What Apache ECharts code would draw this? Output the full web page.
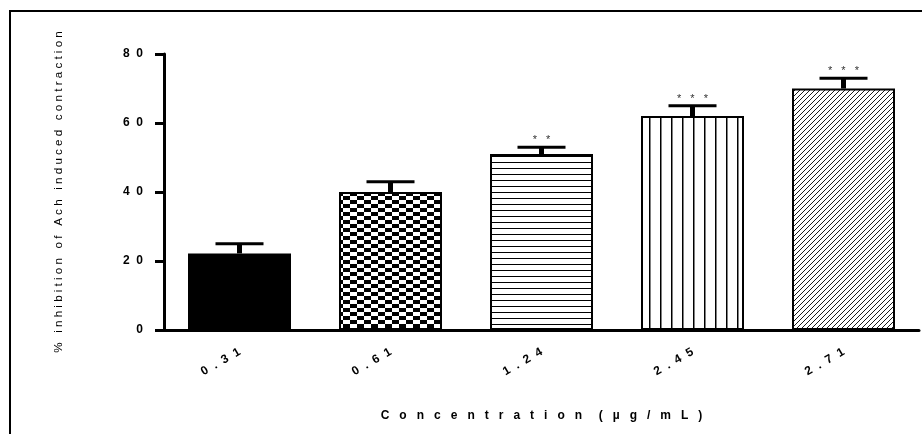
<!DOCTYPE html>
<html>
<head>
<meta charset="utf-8">
<script src="https://cdn.jsdelivr.net/npm/echarts@6/dist/echarts.min.js"></script>
<style>
  html, body { margin: 0; padding: 0; background: #fff; }
  #chart { width: 922px; height: 434px; }
</style>
</head>
<body>
<div id="chart"></div>
<script>
// data
const categories = ['0.31', '0.61', '1.24', '2.45', '2.71'];
const means = [22.2, 40, 51, 62, 70];
const errors = [2.8, 3, 2, 3, 3];
const sigs = ['', '', '**', '***', '***'];
const yTicks = { min: 0, max: 80, interval: 20 };

const FONT = '"Liberation Sans", Arial, sans-serif';

// spread characters like the original figure
const spaced = (s, gap) => String(s).split('').join(gap);
const spacedWords = (s, gap, wordGap) => s.split(' ').map(w => spaced(w, gap)).join(wordGap);

// fill patterns for each bar
const makePattern = (kind) => {
  const c = document.createElement('canvas');
  const ctx = c.getContext('2d');
  if (kind === 'checker') {
    c.width = 14; c.height = 8;
    ctx.fillStyle = '#fff'; ctx.fillRect(0, 0, 14, 8);
    ctx.fillStyle = '#000';
    ctx.fillRect(0, 0, 7, 4);
    ctx.fillRect(7, 4, 7, 4);
  } else if (kind === 'hlines') {
    c.width = 8; c.height = 6;
    ctx.fillStyle = '#fff'; ctx.fillRect(0, 0, 8, 6);
    ctx.fillStyle = '#000'; ctx.fillRect(0, 0, 8, 1);
  } else if (kind === 'vlines') {
    c.width = 11; c.height = 8;
    ctx.fillStyle = '#fff'; ctx.fillRect(0, 0, 11, 8);
    ctx.fillStyle = '#000'; ctx.fillRect(0, 0, 1.5, 8);
  } else if (kind === 'diag') {
    c.width = 5; c.height = 5;
    ctx.fillStyle = '#fff'; ctx.fillRect(0, 0, 5, 5);
    ctx.strokeStyle = '#000'; ctx.lineWidth = 0.9;
    ctx.beginPath();
    ctx.moveTo(0, 5); ctx.lineTo(5, 0);
    ctx.moveTo(-1, 1); ctx.lineTo(1, -1);
    ctx.moveTo(4, 6); ctx.lineTo(6, 4);
    ctx.stroke();
  }
  return { image: c, repeat: 'repeat' };
};

const fills = ['#000', makePattern('checker'), makePattern('hlines'), makePattern('vlines'), makePattern('diag')];

const chart = echarts.init(document.getElementById('chart'));

const option = {
  animation: false,
  backgroundColor: '#fff',
  graphic: [{
    type: 'rect',
    shape: { x: 10, y: 11, width: 1000, height: 1000 },
    style: { fill: 'none', stroke: '#000', lineWidth: 2 },
    silent: true
  }],
  grid: { left: 164, right: 3, top: 54, bottom: 104 },
  xAxis: {
    type: 'category',
    data: categories,
    name: spacedWords('Concentration (µg/mL)', '   ', '     '),
    nameLocation: 'middle',
    nameGap: 80,
    nameTextStyle: { fontFamily: FONT, fontSize: 12, fontWeight: 'bold', color: '#000' },
    axisLine: { lineStyle: { color: '#000', width: 3 } },
    axisTick: { alignWithLabel: true, length: 9, lineStyle: { color: '#000', width: 3 } },
    axisLabel: {
      rotate: 30, margin: 21,
      fontFamily: FONT, fontSize: 12, fontWeight: 'bold', color: '#000',
      formatter: v => spaced(v, '  ')
    }
  },
  yAxis: {
    type: 'value',
    min: yTicks.min, max: yTicks.max, interval: yTicks.interval,
    name: spacedWords('% inhibition of Ach induced contraction', ' ', '   '),
    nameLocation: 'middle',
    nameGap: 99,
    nameRotate: 90,
    nameTextStyle: { fontFamily: FONT, fontSize: 11.6, color: '#000' },
    splitLine: { show: false },
    axisLine: { show: true, lineStyle: { color: '#000', width: 3 } },
    axisTick: { show: true, length: 9, lineStyle: { color: '#000', width: 3 } },
    axisLabel: {
      margin: 21,
      fontFamily: FONT, fontSize: 12, fontWeight: 'bold', color: '#000',
      formatter: v => spaced(v, '  ')
    }
  },
  series: [
    {
      type: 'bar',
      barWidth: 103,
      data: means.map((v, i) => ({
        value: v,
        itemStyle: { color: fills[i], borderColor: '#000', borderWidth: 2 }
      })),
      z: 2
    },
    {
      type: 'custom',
      z: 3,
      data: means.map((v, i) => [i, v, errors[i]]),
      renderItem: (params, api) => {
        const i = api.value(0);
        const base = api.coord([i, api.value(1)]);
        const top = api.coord([i, api.value(1) + api.value(2)]);
        const children = [
          {
            type: 'line',
            shape: { x1: base[0], y1: base[1], x2: top[0], y2: top[1] },
            style: { stroke: '#000', lineWidth: 5 }
          },
          {
            type: 'line',
            shape: { x1: top[0] - 24, y1: top[1], x2: top[0] + 24, y2: top[1] },
            style: { stroke: '#000', lineWidth: 3 }
          }
        ];
        if (sigs[i]) {
          children.push({
            type: 'text',
            style: {
              x: top[0], y: top[1] - 7,
              text: sigs[i].split('').join('   '),
              fontFamily: FONT, fontSize: 11, fill: '#333',
              align: 'center', verticalAlign: 'middle'
            }
          });
        }
        return { type: 'group', children: children };
      }
    }
  ]
};

chart.setOption(option);
</script>
</body>
</html>
